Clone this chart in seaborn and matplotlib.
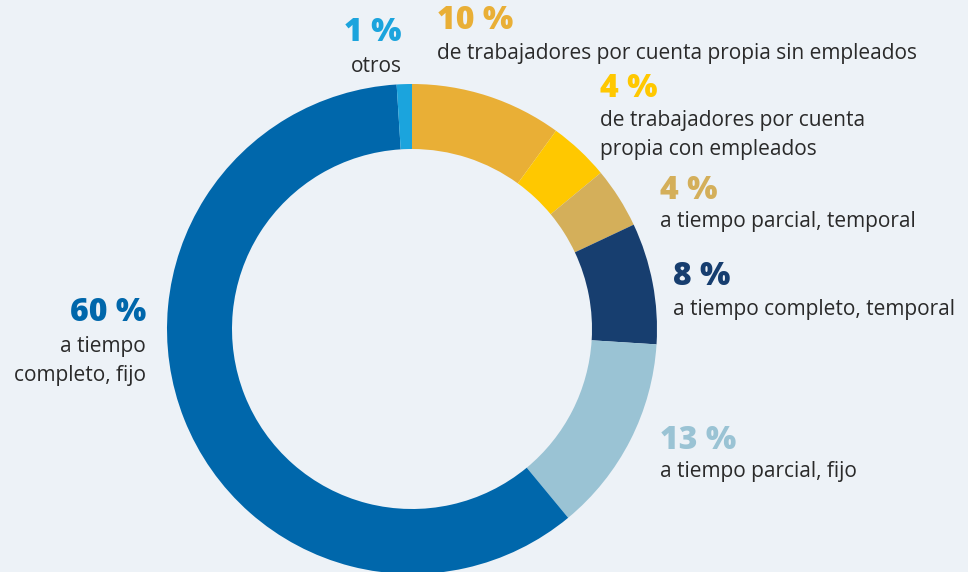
import matplotlib.pyplot as plt
import seaborn as sns

W, H = 968, 572

# clockwise from 12 o'clock
shares = [10, 4, 4, 8, 13, 60, 1]
pct_labels = ["10 %", "4 %", "4 %", "8 %", "13 %", "60 %", "1 %"]
desc_labels = [
    "de trabajadores por cuenta propia sin empleados",
    "de trabajadores por cuenta\npropia con empleados",
    "a tiempo parcial, temporal",
    "a tiempo completo, temporal",
    "a tiempo parcial, fijo",
    "a tiempo\ncompleto, fijo",
    "otros",
]
colors = ["#E9AF36", "#FFC800", "#D4AF5A", "#173E6F", "#9AC3D4", "#0067AB", "#1BA4DD"]

BG = "#EDF2F7"
TXT = "#2A2A2A"

# label anchor (x, y of percentage, y of description) in pixels from top-left, alignment
anchors = [
    (437, 21, 53, "left"),
    (600, 89, 135, "left"),
    (660, 191, 222, "left"),
    (673, 277, 309, "left"),
    (660, 441, 471, "left"),
    (146, 313, 361, "right"),
    (402, 33, 67, "right"),
]

sns.set_theme(style="white")
plt.rcParams["font.family"] = ["Open Sans", "DejaVu Sans"]

fig = plt.figure(figsize=(W / 100, H / 100), dpi=100)
fig.patch.set_facecolor(BG)
ax = fig.add_axes([0, 0, 1, 1])
ax.set_facecolor(BG)

cx, cy, r_out, r_in = 412, H - 329, 245, 180
ax.pie(
    shares,
    colors=sns.color_palette(colors),
    startangle=90,
    counterclock=False,
    center=(cx, cy),
    radius=r_out,
    wedgeprops=dict(width=r_out - r_in, linewidth=0),
    frame=True,
)
ax.set_xlim(0, W)
ax.set_ylim(0, H)
ax.axis("off")

for pct, desc, col, (x, yp, yd, ha) in zip(pct_labels, desc_labels, colors, anchors):
    ax.text(x, H - yp, pct, color=col, fontsize=23, fontweight="heavy", ha=ha, va="center")
    ax.text(x, H - yd, desc, color=TXT, fontsize=15, ha=ha, va="center",
            linespacing=1.5, multialignment=ha)

fig.savefig("out.png", dpi=100, facecolor=BG)
